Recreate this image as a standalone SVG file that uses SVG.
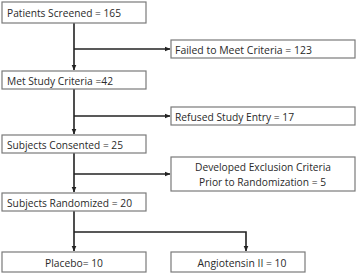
<svg xmlns="http://www.w3.org/2000/svg" width="358" height="274" viewBox="0 0 358 274">
<defs>
<marker id="ah" markerWidth="6" markerHeight="6" refX="5.5" refY="3" orient="auto" markerUnits="userSpaceOnUse">
<path d="M0,0.5 L6,3 L0,5.5 Z" fill="#222"/>
</marker>
<style>
.box{fill:#fff;stroke:#7a7a7a;stroke-width:1.2}
.t{font-family:"Open Sans","Liberation Sans",sans-serif;font-size:11.5px;fill:#2a2a2a}
.c{text-anchor:middle}
.ln{fill:none;stroke:#222;stroke-width:1.6}
</style>
</defs>
<rect width="358" height="274" fill="#fff"/>
<g id="connectors">
<path class="ln" d="M74,23 V70" marker-end="url(#ah)"/>
<path class="ln" d="M74,49 H170" marker-end="url(#ah)"/>
<path class="ln" d="M74,89 V134" marker-end="url(#ah)"/>
<path class="ln" d="M74,116 H170" marker-end="url(#ah)"/>
<path class="ln" d="M74,153 V192" marker-end="url(#ah)"/>
<path class="ln" d="M74,174 H170" marker-end="url(#ah)"/>
<path class="ln" d="M74,211 V251" marker-end="url(#ah)"/>
<path class="ln" d="M74,232 H246 V251" marker-end="url(#ah)"/>
</g>
<g id="screened"><rect class="box" x="2" y="2" width="144" height="21"/><text class="t" x="7" y="17" textLength="114" lengthAdjust="spacingAndGlyphs">Patients Screened = 165</text></g>
<g id="failed"><rect class="box" x="171" y="40" width="184" height="18"/><text class="t" x="175" y="53.5" textLength="137" lengthAdjust="spacingAndGlyphs">Failed to Meet Criteria = 123</text></g>
<g id="met"><rect class="box" x="2" y="71" width="144" height="18"/><text class="t" x="7" y="84.5" textLength="106" lengthAdjust="spacingAndGlyphs">Met Study Criteria =42</text></g>
<g id="refused"><rect class="box" x="171" y="107" width="184" height="18"/><text class="t" x="175" y="120.5" textLength="119" lengthAdjust="spacingAndGlyphs">Refused Study Entry = 17</text></g>
<g id="consented"><rect class="box" x="2" y="135" width="144" height="18"/><text class="t" x="7" y="148.5" textLength="116" lengthAdjust="spacingAndGlyphs">Subjects Consented = 25</text></g>
<g id="excluded"><rect class="box" x="171" y="157" width="184" height="34"/><text class="t c" x="263" y="170.5" textLength="136" lengthAdjust="spacingAndGlyphs">Developed Exclusion Criteria</text><text class="t c" x="262.5" y="185.5" textLength="127" lengthAdjust="spacingAndGlyphs">Prior to Randomization = 5</text></g>
<g id="randomized"><rect class="box" x="2" y="193" width="144" height="18"/><text class="t" x="7" y="206.5" textLength="125" lengthAdjust="spacingAndGlyphs">Subjects Randomized = 20</text></g>
<g id="placebo"><rect class="box" x="2" y="252" width="144" height="20"/><text class="t c" x="74" y="266.5" textLength="58" lengthAdjust="spacingAndGlyphs">Placebo= 10</text></g>
<g id="angiotensin"><rect class="box" x="171" y="252" width="134" height="20"/><text class="t c" x="242" y="266.5" textLength="89" lengthAdjust="spacingAndGlyphs">Angiotensin II = 10</text></g>
</svg>
